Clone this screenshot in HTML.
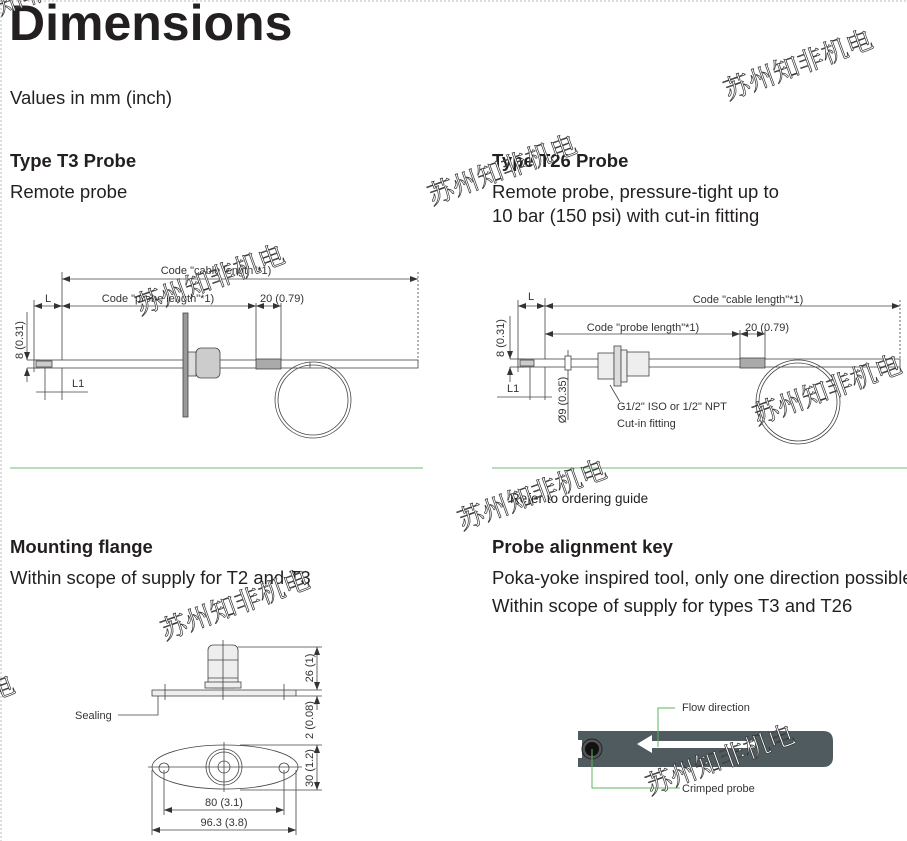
<!DOCTYPE html>
<html><head><meta charset="utf-8">
<style>
html,body{margin:0;padding:0;background:#fff;width:907px;height:841px;overflow:hidden}
svg{display:block}
.t{font-family:"Liberation Sans",Arial,sans-serif;fill:#231f20}
.d{font-family:"Liberation Sans",Arial,sans-serif;fill:#333;font-size:11px}
.wm{font-family:"Liberation Serif","Noto Serif CJK SC","WenQuanYi Zen Hei",serif;font-size:26px;fill:#fff;stroke:#333;stroke-width:0.7}
</style></head>
<body>
<svg width="907" height="841" viewBox="0 0 907 841" xmlns="http://www.w3.org/2000/svg">
<defs>
<marker id="a" viewBox="0 0 8 6" refX="8" refY="3" markerWidth="8" markerHeight="6" orient="auto-start-reverse" markerUnits="userSpaceOnUse"><path d="M0,0L8,3L0,6z" fill="#333"/></marker>
</defs>
<g stroke="#bbb" stroke-dasharray="2,2" stroke-width="1" fill="none">
<line x1="1" y1="0" x2="1" y2="841"/><line x1="0" y1="1" x2="907" y2="1"/>
</g>
<text class="t" x="9" y="40" font-size="50" font-weight="bold">Dimensions</text>
<text class="t" x="10" y="104" font-size="18.5">Values in mm (inch)</text>
<text class="t" x="10" y="167" font-size="18.5" font-weight="bold">Type T3 Probe</text>
<text class="t" x="10" y="198" font-size="18.5">Remote probe</text>
<text class="t" x="492" y="167" font-size="18.5" font-weight="bold">Type T26 Probe</text>
<text class="t" x="492" y="198" font-size="18.5">Remote probe, pressure-tight up to</text>
<text class="t" x="492" y="222" font-size="18.5">10 bar (150 psi) with cut-in fitting</text>
<line x1="10" y1="468" x2="423" y2="468" stroke="#9fd3a4" stroke-width="1.5"/>
<line x1="492" y1="468" x2="907" y2="468" stroke="#9fd3a4" stroke-width="1.5"/>
<text class="t" x="510" y="503" font-size="13.5">Refer to ordering guide</text>
<text class="t" x="10" y="553" font-size="18.5" font-weight="bold">Mounting flange</text>
<text class="t" x="10" y="584" font-size="18.5">Within scope of supply for T2 and T3</text>
<text class="t" x="492" y="553" font-size="18.5" font-weight="bold">Probe alignment key</text>
<text class="t" x="492" y="584" font-size="18.5">Poka-yoke inspired tool, only one direction possible</text>
<text class="t" x="492" y="612" font-size="18.5">Within scope of supply for types T3 and T26</text>

<!-- T3 drawing -->
<g stroke="#444" stroke-width="0.8" fill="none">
<line x1="62" y1="272" x2="62" y2="400"/>
<line x1="34" y1="300" x2="34" y2="372"/>
<line x1="256" y1="303" x2="256" y2="362"/>
<line x1="281" y1="303" x2="281" y2="362"/>
<line x1="418" y1="272" x2="418" y2="362" stroke-dasharray="2,2"/>
<line x1="62" y1="279" x2="418" y2="279" marker-start="url(#a)" marker-end="url(#a)"/>
<line x1="34" y1="306" x2="62" y2="306" marker-start="url(#a)" marker-end="url(#a)"/>
<line x1="62" y1="306" x2="256" y2="306" marker-start="url(#a)" marker-end="url(#a)"/>
<line x1="256" y1="306" x2="281" y2="306" marker-start="url(#a)" marker-end="url(#a)"/>
<line x1="27" y1="360" x2="40" y2="360"/><line x1="27" y1="368" x2="40" y2="368"/>
<line x1="27" y1="312" x2="27" y2="360" marker-end="url(#a)"/>
<line x1="27" y1="382" x2="27" y2="368" marker-end="url(#a)"/>
<line x1="45" y1="365" x2="45" y2="400"/>
<line x1="36" y1="392" x2="88" y2="392"/>
<rect x="34" y="360" width="384" height="8" fill="#fff"/>
<rect x="36" y="361" width="16" height="6" fill="#ccc"/>
<rect x="183" y="313" width="5" height="104" fill="#999"/>
<rect x="188" y="352" width="8" height="24" fill="#ddd"/>
<rect x="196" y="348" width="24" height="30" rx="5" fill="#ccc"/>
<rect x="256" y="359" width="25" height="10" fill="#aaa"/>
<circle cx="313" cy="400" r="38"/><circle cx="313" cy="400" r="35"/>
<line x1="310" y1="362" x2="310" y2="368"/>
</g>
<text class="d" x="216" y="274" text-anchor="middle">Code "cable length"*1)</text>
<text class="d" x="48" y="302" text-anchor="middle">L</text>
<text class="d" x="158" y="302" text-anchor="middle">Code "probe length"*1)</text>
<text class="d" x="282" y="302" text-anchor="middle" font-size="12">20 (0.79)</text>
<text class="d" x="72" y="387">L1</text>
<text class="d" transform="translate(23,340) rotate(-90)" text-anchor="middle">8 (0.31)</text>

<!-- T26 drawing -->
<g stroke="#444" stroke-width="0.8" fill="none">
<line x1="518" y1="300" x2="518" y2="372"/>
<line x1="545" y1="298" x2="545" y2="400"/>
<line x1="740" y1="330" x2="740" y2="362"/>
<line x1="765" y1="330" x2="765" y2="362"/>
<line x1="900" y1="300" x2="900" y2="362" stroke-dasharray="2,2"/>
<line x1="518" y1="306" x2="545" y2="306" marker-start="url(#a)" marker-end="url(#a)"/>
<line x1="545" y1="306" x2="900" y2="306" marker-start="url(#a)" marker-end="url(#a)"/>
<line x1="545" y1="334" x2="740" y2="334" marker-start="url(#a)" marker-end="url(#a)"/>
<line x1="740" y1="334" x2="765" y2="334" marker-start="url(#a)" marker-end="url(#a)"/>
<line x1="510" y1="359" x2="525" y2="359"/><line x1="510" y1="367" x2="525" y2="367"/>
<line x1="510" y1="316" x2="510" y2="359" marker-end="url(#a)"/>
<line x1="510" y1="382" x2="510" y2="367" marker-end="url(#a)"/>
<line x1="530" y1="363" x2="530" y2="400"/>
<line x1="497" y1="397" x2="552" y2="397"/>
<line x1="568" y1="350" x2="568" y2="420"/>
<rect x="518" y="359" width="382" height="8" fill="#fff"/>
<rect x="520" y="360" width="14" height="6" fill="#ccc"/>
<rect x="565" y="356" width="6" height="14" fill="#fff"/>
<rect x="598" y="353" width="16" height="26" fill="#eee"/>
<rect x="614" y="346" width="7" height="40" fill="#ddd"/>
<rect x="621" y="350" width="6" height="32" fill="#eee"/>
<rect x="627" y="352" width="22" height="24" fill="#eee"/>
<line x1="610" y1="385" x2="620" y2="402"/>
<rect x="740" y="358" width="25" height="10" fill="#aaa"/>
<circle cx="798" cy="402" r="42"/><circle cx="798" cy="402" r="39"/>
</g>
<text class="d" x="531" y="300" text-anchor="middle">L</text>
<text class="d" x="748" y="303" text-anchor="middle">Code "cable length"*1)</text>
<text class="d" x="643" y="331" text-anchor="middle">Code "probe length"*1)</text>
<text class="d" x="767" y="331" text-anchor="middle" font-size="12">20 (0.79)</text>
<text class="d" x="507" y="392">L1</text>
<text class="d" transform="translate(504,338) rotate(-90)" text-anchor="middle">8 (0.31)</text>
<text class="d" transform="translate(566,400) rotate(-90)" text-anchor="middle">Ø9 (0.35)</text>
<text class="d" x="617" y="410">G1/2" ISO or 1/2" NPT</text>
<text class="d" x="617" y="427">Cut-in fitting</text>

<!-- Flange -->
<g stroke="#444" stroke-width="0.8" fill="none">
<rect x="208" y="645" width="30" height="43" rx="5" fill="#eee"/>
<line x1="208" y1="660" x2="238" y2="660"/><line x1="208" y1="678" x2="238" y2="678"/>
<rect x="205" y="682" width="36" height="6" fill="#eee"/>
<rect x="152" y="690" width="144" height="6" fill="#eee"/>
<line x1="223" y1="640" x2="223" y2="700"/>
<line x1="165" y1="684" x2="165" y2="700"/><line x1="284" y1="684" x2="284" y2="700"/>
<polyline points="158,696 158,715 118,715"/>
<ellipse cx="225" cy="767" rx="73" ry="22"/>
<circle cx="164" cy="768" r="5"/><circle cx="284" cy="768" r="5"/>
<circle cx="224" cy="767" r="18"/><circle cx="224" cy="767" r="15"/><circle cx="224" cy="767" r="6"/>
<line x1="148" y1="767" x2="302" y2="767"/><line x1="224" y1="742" x2="224" y2="792"/>
<line x1="164" y1="770" x2="164" y2="815"/><line x1="284" y1="770" x2="284" y2="815"/>
<line x1="152" y1="770" x2="152" y2="835"/><line x1="296" y1="770" x2="296" y2="835"/>
<line x1="164" y1="810" x2="284" y2="810" marker-start="url(#a)" marker-end="url(#a)"/>
<line x1="152" y1="830" x2="296" y2="830" marker-start="url(#a)" marker-end="url(#a)"/>
<line x1="238" y1="647" x2="322" y2="647"/><line x1="296" y1="690" x2="322" y2="690"/>
<line x1="296" y1="696" x2="322" y2="696"/><line x1="240" y1="745" x2="322" y2="745"/>
<line x1="240" y1="790" x2="322" y2="790"/>
<line x1="317" y1="647" x2="317" y2="690" marker-start="url(#a)" marker-end="url(#a)"/>
<line x1="317" y1="710" x2="317" y2="696" marker-end="url(#a)"/>
<line x1="317" y1="745" x2="317" y2="790" marker-start="url(#a)" marker-end="url(#a)"/>
</g>
<text class="d" x="75" y="719">Sealing</text>
<text class="d" x="224" y="806" text-anchor="middle">80 (3.1)</text>
<text class="d" x="224" y="826" text-anchor="middle">96.3 (3.8)</text>
<text class="d" transform="translate(313,668) rotate(-90)" text-anchor="middle">26 (1)</text>
<text class="d" transform="translate(313,720) rotate(-90)" text-anchor="middle">2 (0.08)</text>
<text class="d" transform="translate(313,768) rotate(-90)" text-anchor="middle">30 (1.2)</text>

<!-- Alignment key -->
<path d="M578,731 H823 Q833,731 833,741 V757 Q833,767 823,767 H578 V758 H582 V740 H578 Z" fill="#4f5b5f"/>
<circle cx="592" cy="749" r="10" fill="#555" stroke="#222"/>
<circle cx="592" cy="749" r="7" fill="#111"/>
<path d="M637,744 L652,735 V741 H755 V748 H652 V753 Z" fill="#fff"/>
<polyline points="658,747 658,708 675,708" fill="none" stroke="#5bb55f" stroke-width="1"/>
<polyline points="592,749 592,788 680,788" fill="none" stroke="#5bb55f" stroke-width="1"/>
<text class="d" x="682" y="711" font-size="10">Flow direction</text>
<text class="d" x="682" y="792" font-size="10">Crimped probe</text>

<!-- watermarks -->
<text class="wm" transform="translate(728,100) rotate(-20)">苏州知非机电</text>
<text class="wm" transform="translate(432,205) rotate(-20)">苏州知非机电</text>
<text class="wm" transform="translate(140,315) rotate(-20)">苏州知非机电</text>
<text class="wm" transform="translate(757,425) rotate(-20)">苏州知非机电</text>
<text class="wm" transform="translate(462,530) rotate(-20)">苏州知非机电</text>
<text class="wm" transform="translate(165,640) rotate(-20)">苏州知非机电</text>
<text class="wm" transform="translate(650,795) rotate(-20)">苏州知非机电</text>
<text class="wm" transform="translate(-130,745) rotate(-20)">苏州知非机电</text>
<text class="wm" transform="translate(0,15) rotate(-20)">知非机</text>
</svg>
</body></html>
